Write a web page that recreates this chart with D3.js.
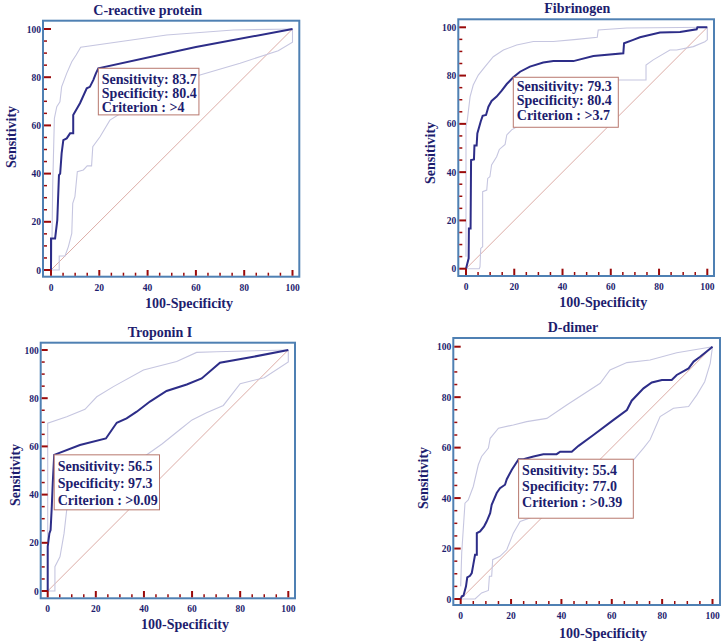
<!DOCTYPE html>
<html>
<head>
<meta charset="utf-8">
<title>ROC curves</title>
<style>
    body{
        margin: 0;
        background: #fff;
    }
    svg{
        display: block;
    }
    text{
        font-family: "Liberation Serif", "Times New Roman", serif;
        font-weight: bold;
        fill: #1d1d6e;
    }
</style>
</head>
<body>
<script src="https://d3js.org/d3.v7.min.js"></script>
<svg></svg>
<script>

    // axis ticks
    var majorTicks = [0, 20, 40, 60, 80, 100];
    var minorTicks = [5, 10, 15, 25, 30, 35, 45, 50, 55, 65, 70, 75, 85, 90, 95];

    var titles = ["C-reactive protein", "Fibrinogen", "Troponin I", "D-dimer"];
    var sensitivity = [83.7, 79.3, 56.5, 55.4];
    var specificity = [80.4, 80.4, 97.3, 77.0];
    var criterion = [">4", ">3.7", ">0.09", ">0.39"];

    // [100-specificity, sensitivity]
    var crpCurve = [[0,0],[0,13.1],[1.7,13.1],[2.6,20.7],[3.3,39.4],[3.8,40],[4.4,48.4],[5.1,53.9],[6.5,54.6],[7.9,56.7],[9.2,56.7],[9.2,64.3],[12,69.2],[14.8,75.4],[16.1,76],[17.5,78.8],[18.6,81.6],[19.6,83.7],[60,92.5],[100,100]];
    var crpUpper = [[0,0],[0.3,4],[0.7,34.6],[1.4,62.9],[2.4,67.8],[3.7,69.8],[4.4,76],[6.5,81.6],[8.6,86.4],[10.4,89.2],[12.3,92.4],[47.9,97.5],[75.5,99.6],[100,100]];
    var crpLower = [[0,0],[3.4,0],[3.4,5.8],[5.8,5.8],[7.2,9.7],[8.6,15.2],[9,27.7],[9.9,30.4],[10.9,40.8],[13.4,41.5],[15,43.2],[16.8,43.2],[17.3,51.2],[20.3,55.3],[24.4,62.2],[40,72],[61.7,80.9],[78.3,85.8],[94.1,91],[100,94.5],[100,100]];

    var fibCurve = [[0,0],[0.55,2.2],[1.1,4.3],[1.2,16.7],[1.9,16.7],[2.1,45],[3.3,45.3],[3.5,51],[4.4,51],[4.7,56],[6.1,61],[6.9,63.3],[8.3,63.7],[9.3,67.1],[10.6,69.5],[12.7,71.3],[14.8,73.8],[16.9,76.5],[19.6,79.3],[22.4,81.6],[26.5,83.7],[32,85.4],[36.2,86],[44.5,86],[52.8,88.1],[65.2,89.2],[65.5,93.4],[69.3,94.8],[72.1,95.9],[80.4,97.8],[88.7,98.1],[95.6,99.2],[95.9,100],[100,100]];
    var fibUpper = [[0,5],[0,58.8],[0.55,61.6],[1.7,71.3],[3,76.1],[5.1,80.2],[7.9,83.7],[11.3,87.8],[15.5,90.6],[21,92.7],[27.9,94.1],[36.2,94.1],[45.9,95],[54.4,95.9],[54.8,98.9],[66.6,99.7],[100,100]];
    var fibLower = [[0,0],[5.5,0],[5.8,0.8],[6.1,8.4],[6.9,9.1],[6.9,31.9],[8.6,32.6],[9,37.4],[9.9,38.1],[10.6,43],[12.7,46.4],[13.8,49.4],[16.2,51.5],[16.9,55.4],[18.9,57.5],[30,64],[45,71],[63,78.2],[74.6,78.2],[74.6,84.4],[77.6,86.5],[84.5,90.6],[87.3,90.6],[94.2,92],[99,94],[100,94.8],[100,100]];

    var tropCurve = [[0,0],[0,18.4],[0.7,23.9],[1.2,25.3],[1.7,35],[2.1,44.7],[2.7,56.5],[13.4,60.6],[24.2,63.3],[28.7,69.8],[32.8,71.6],[37,74.4],[42.5,78.6],[49.4,83],[57.8,85.7],[64,88.2],[71.6,94.7],[85.5,97.2],[100,100]];
    var tropUpper = [[0,0],[0,69.6],[7.9,72.3],[15.5,75.4],[20.4,80.6],[27.3,84.8],[39.8,91.7],[53.6,95.2],[61.9,99],[70.2,99.3],[100,100]];
    var tropLower = [[0,0],[3,0],[3,10.1],[5.1,14.2],[6.8,23.9],[7.9,33.6],[15,42],[25,48],[35,53],[40,55.7],[47.5,61],[55,67],[60,71],[66,74],[73,77],[80,86],[90,88.5],[100,95],[100,100]];

    var ddCurve = [[0,0],[0.4,1.1],[1.1,1.3],[2.1,5],[2.6,8.6],[3.7,9.2],[4.4,10.3],[5,13.6],[5.7,17.5],[6.4,17.5],[6.4,26.1],[7.7,26.8],[9.3,28.8],[10.3,30.7],[11.7,34],[12.3,37.3],[14.3,42],[15.6,43.9],[17.6,45.3],[18.3,47.5],[20.3,51.2],[23,55.4],[24.9,55.4],[28.9,56.5],[32.8,57.4],[38.1,57.4],[39.5,58.4],[44.1,58.4],[46.8,60.7],[52.7,65],[60.7,71],[66,74.9],[67.9,78.6],[72.6,83.5],[75.9,85.8],[79.9,86.8],[83.8,86.8],[85.8,88.8],[90.5,91.4],[92.5,94.1],[95.1,96],[100,100]];
    var ddUpper = [[0,5],[0.4,18.2],[1.7,38],[3,39.3],[5,44.6],[7,53.2],[8.3,56.5],[11,59.8],[11.7,63.7],[15,67.7],[20.9,69],[26.2,70.3],[34.2,71.6],[42.1,76.9],[55.4,85.5],[59.3,90.8],[66,93.7],[75.2,94.7],[85.8,97.6],[100,100]];
    var ddLower = [[0,0],[5.7,0],[8.3,2.4],[11,3.4],[11.4,9],[12.3,9],[12.7,15.6],[15.6,16.9],[18.3,19.5],[20.9,26.1],[23.6,30.7],[27.5,32.1],[40,40],[55,48],[68.6,55.1],[72.6,59.8],[75.2,63.1],[79.2,72.3],[84.5,75.6],[90.5,76.3],[93.8,80.9],[96.9,86.1],[99.1,93.4],[100,100]];

    var curves = [crpCurve, fibCurve, tropCurve, ddCurve];
    var uppers = [crpUpper, fibUpper, tropUpper, ddUpper];
    var lowers = [crpLower, fibLower, tropLower, ddLower];

    // where each panel sits on the page
    var panels = [
        {frame: [43, 20.7, 299.3, 276.7], x: [51, 292.5], y: [270, 29],
         title: [147.7, 14.5], ylab: [11.7, 137], xlab: [189, 307.5], box: [100.6, 46.6], lh: 14.4, pad: 15.3},
        {frame: [458.3, 19.3, 714, 276], x: [466, 707.3], y: [268.7, 27.3],
         title: [577.3, 13], ylab: [430, 153], xlab: [603.3, 306.5], box: [105, 50], lh: 14.2, pad: 14},
        {frame: [40.7, 342.7, 295, 598.3], x: [47.7, 288.3], y: [591, 350],
         title: [160, 336.5], ylab: [15, 475], xlab: [185, 628.5], box: [105.3, 55], lh: 17.2, pad: 15.7},
        {frame: [453.3, 338, 720, 605], x: [460.7, 712.5], y: [599, 346.7],
         title: [573, 331.5], ylab: [423, 478], xlab: [603, 637.5], box: [114.7, 59], lh: 15.9, pad: 16}
    ];

    var svg = d3.select("svg")
        .attr("width", 725)
        .attr("height", 644);

    panels.forEach(function(p, i){
        var x = d3.scaleLinear().domain([0, 100]).range(p.x);
        var y = d3.scaleLinear().domain([0, 100]).range(p.y);
        var line = d3.line().x(d => x(d[0])).y(d => y(d[1]));

        var g = svg.append("g");

        // reference diagonal
        g.append("line")
            .attr("x1", x(0)).attr("y1", y(0))
            .attr("x2", x(100)).attr("y2", y(100))
            .style("stroke", "#d8a39c")
            .style("stroke-width", 0.9);

        // confidence bounds
        [uppers[i], lowers[i]].forEach(function(d){
            g.append("path")
                .datum(d)
                .attr("d", line)
                .style("fill", "none")
                .style("stroke", "#c6c6e0")
                .style("stroke-width", 1.1);
        });

        g.append("path")
            .datum(curves[i])
            .attr("d", line)
            .style("fill", "none")
            .style("stroke", "#2d2d88")
            .style("stroke-width", 2);

        // criterion box, anchored at the cut-off point
        var bx = x(100 - specificity[i]), by = y(sensitivity[i]);
        g.append("rect")
            .attr("x", bx).attr("y", by)
            .attr("width", p.box[0]).attr("height", p.box[1])
            .style("fill", "#fff")
            .style("stroke", "#b8786e")
            .style("stroke-width", 1);

        var lines = ["Sensitivity: " + sensitivity[i],
                     "Specificity: " + specificity[i].toFixed(1),
                     "Criterion : " + criterion[i]];
        lines.forEach(function(t, k){
            g.append("text")
                .attr("x", bx + 3.5)
                .attr("y", by + p.pad + k * p.lh)
                .style("font-size", "14px")
                .text(t);
        });

        // frame
        var f = p.frame;
        g.append("rect")
            .attr("x", f[0]).attr("y", f[1])
            .attr("width", f[2] - f[0]).attr("height", f[3] - f[1])
            .style("fill", "none")
            .style("stroke", "#4f80b3")
            .style("stroke-width", 2);

        // x ticks (drawn up from the bottom frame)
        g.selectAll(".xmaj")
            .data(majorTicks).enter().append("line")
            .attr("x1", d => x(d)).attr("x2", d => x(d))
            .attr("y1", f[3] - 1).attr("y2", y(0))
            .style("stroke", "#9a0a0a").style("stroke-width", 2);
        g.selectAll(".xmin")
            .data(minorTicks).enter().append("line")
            .attr("x1", d => x(d)).attr("x2", d => x(d))
            .attr("y1", f[3] - 1).attr("y2", f[3] - 4)
            .style("stroke", "#9a0a0a").style("stroke-width", 1.5);
        g.selectAll(".xlab")
            .data(majorTicks).enter().append("text")
            .attr("x", d => x(d))
            .attr("y", f[3] + 14)
            .attr("text-anchor", "middle")
            .style("font-size", "9.5px")
            .text(d => d);

        // y ticks (drawn right from the left frame)
        g.selectAll(".ymaj")
            .data(majorTicks).enter().append("line")
            .attr("y1", d => y(d)).attr("y2", d => y(d))
            .attr("x1", f[0] + 1).attr("x2", x(0))
            .style("stroke", "#9a0a0a").style("stroke-width", 2);
        g.selectAll(".ymin")
            .data(minorTicks).enter().append("line")
            .attr("y1", d => y(d)).attr("y2", d => y(d))
            .attr("x1", f[0] + 1).attr("x2", f[0] + 4)
            .style("stroke", "#9a0a0a").style("stroke-width", 1.5);
        g.selectAll(".ylab")
            .data(majorTicks).enter().append("text")
            .attr("x", f[0] - 2)
            .attr("y", d => y(d) + 3.5)
            .attr("text-anchor", "end")
            .style("font-size", "9.5px")
            .text(d => d);

        // titles
        g.append("text")
            .attr("x", p.title[0]).attr("y", p.title[1])
            .attr("text-anchor", "middle")
            .style("font-size", "14px")
            .text(titles[i]);
        g.append("text")
            .attr("x", p.xlab[0]).attr("y", p.xlab[1])
            .attr("text-anchor", "middle")
            .style("font-size", "14px")
            .text("100-Specificity");
        g.append("text")
            .attr("transform", "translate(" + (p.ylab[0] + 4.5) + "," + p.ylab[1] + ") rotate(-90)")
            .attr("text-anchor", "middle")
            .style("font-size", "14px")
            .text("Sensitivity");
    });

</script>
</body>
</html>
